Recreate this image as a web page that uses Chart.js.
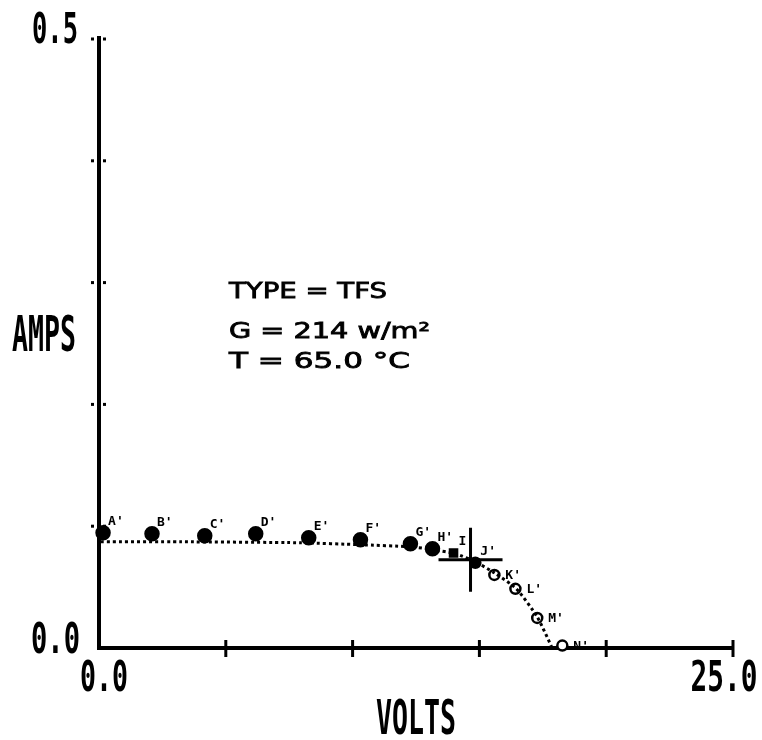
<!DOCTYPE html>
<html>
<head>
<meta charset="utf-8">
<script src="https://cdn.jsdelivr.net/npm/chart.js@4.4.0/dist/chart.umd.min.js"></script>
<style>
  html, body { margin: 0; padding: 0; background: #fff; }
  #wrap { width: 762px; height: 740px; }
</style>
</head>
<body>
<div id="wrap"><canvas id="grafico" width="762" height="740"></canvas></div>
<script>
// puntos medidos A'..N'
const etiquetas = ["A'", "B'", "C'", "D'", "E'", "F'", "G'", "H'", "I'", "J'", "K'", "L'", "M'", "N'"];
const voltios = [0.16, 2.09, 4.17, 6.18, 8.27, 10.31, 12.28, 13.15, 13.98, 14.84, 15.59, 16.42, 17.28, 18.27];
const amperios = [0.0947, 0.0938, 0.0922, 0.0938, 0.0905, 0.0889, 0.0856, 0.0815, 0.078, 0.070, 0.060, 0.0486, 0.0247, 0.002];

// curva punteada
const curvaV = [0.08, 3.23, 7.95, 10.31, 12.28, 13.19, 14.06, 14.84, 15.59, 16.46, 17.28, 17.87];
const curvaI = [0.0872, 0.0872, 0.0864, 0.0848, 0.0831, 0.0807, 0.0774, 0.0708, 0.0617, 0.0486, 0.0255, 0.0];

// cruz (punto de maxima potencia)
const mppV = [14.65];
const mppI = [0.0724];

// ejes
const ticksX = [0, 5, 10, 15, 20, 25];
const ticksY = [0.1, 0.2, 0.3, 0.4, 0.5];
const limitesX = ["0.0", "25.0"];
const limitesY = ["0.0", "0.5"];
const tituloX = "VOLTS";
const tituloY = "AMPS";
const notas = ["TYPE = TFS", "G = 214 w/m²", "T = 65.0 °C"];

// texto angosto tipo plotter: alto de mayuscula y ancho final
function textoAngosto(ctx, txt, x, base, alto, ancho, align, fuente, trazo) {
  const size = Math.round(alto / 0.73);
  ctx.font = fuente ? fuente.replace("SIZE", size) : "bold " + size + "px 'DejaVu Sans Mono'";
  const w = ctx.measureText(txt).width;
  const sx = ancho / w;
  ctx.save();
  ctx.translate(x, base);
  ctx.scale(sx, 1);
  ctx.textAlign = "left";
  ctx.textBaseline = "alphabetic";
  let x0 = 0;
  if (align === "right") x0 = -w;
  if (align === "center") x0 = -w / 2;
  ctx.fillText(txt, x0, 0);
  if (trazo) {
    ctx.lineWidth = trazo;
    ctx.strokeStyle = "#000";
    ctx.strokeText(txt, x0, 0);
  }
  ctx.restore();
}

const pluginEjes = {
  id: "ejes",
  beforeDatasetsDraw(chart) {
    const ctx = chart.ctx;
    const sx = chart.scales.x;
    const sy = chart.scales.y;
    const x0 = sx.getPixelForValue(0);
    const y0 = sy.getPixelForValue(0);
    ctx.save();
    ctx.strokeStyle = "#000";
    ctx.fillStyle = "#000";
    ctx.lineCap = "butt";
    // eje y
    ctx.lineWidth = 4;
    ctx.beginPath();
    ctx.moveTo(x0, sy.getPixelForValue(0.5) - 3);
    ctx.lineTo(x0, y0 + 2);
    ctx.stroke();
    // eje x
    ctx.beginPath();
    ctx.moveTo(x0 - 2, y0);
    ctx.lineTo(sx.getPixelForValue(25), y0);
    ctx.stroke();
    // marcas x
    ctx.lineWidth = 3;
    ticksX.forEach(function (v) {
      if (v === 0) return;
      const px = sx.getPixelForValue(v);
      ctx.beginPath();
      ctx.moveTo(px, y0 - 8);
      ctx.lineTo(px, y0 + 9);
      ctx.stroke();
    });
    // marcas y (puntos)
    ticksY.forEach(function (v) {
      const py = sy.getPixelForValue(v);
      ctx.fillRect(x0 - 8, py - 1.5, 3, 3);
      ctx.fillRect(x0 + 4, py - 1.5, 3, 3);
    });
    ctx.restore();
  },
  afterDraw(chart) {
    const ctx = chart.ctx;
    const sx = chart.scales.x;
    const sy = chart.scales.y;
    const x0 = sx.getPixelForValue(0);
    const y0 = sy.getPixelForValue(0);
    ctx.save();
    ctx.fillStyle = "#000";

    // etiquetas de los extremos
    textoAngosto(ctx, limitesY[1], x0 - 21, sy.getPixelForValue(0.5) + 4, 31, 46, "right");
    textoAngosto(ctx, limitesY[0], x0 - 19, y0 + 5, 31, 49, "right");
    textoAngosto(ctx, limitesX[0], x0 + 5, y0 + 43, 31, 48, "center");
    textoAngosto(ctx, limitesX[1], sx.getPixelForValue(25) - 9, y0 + 43, 31, 67, "center");

    // titulos
    textoAngosto(ctx, tituloY, 12, 351, 36, 64, "left");
    textoAngosto(ctx, tituloX, 416, 734, 35, 80, "center");

    // notas manuscritas
    const fuenteNota = "SIZEpx 'DejaVu Sans'";
    textoAngosto(ctx, notas[0], 229, 298, 15, 158, "left", fuenteNota, 0.8);
    textoAngosto(ctx, notas[1], 229, 338, 15, 201, "left", fuenteNota, 0.8);
    textoAngosto(ctx, notas[2], 229, 368, 15, 181, "left", fuenteNota, 0.8);

    // letras de los puntos
    const meta = chart.getDatasetMeta(1);
    ctx.font = "bold 13px 'DejaVu Sans Mono'";
    ctx.textAlign = "left";
    ctx.textBaseline = "alphabetic";
    meta.data.forEach(function (p, i) {
      let dx = 5, dy = -8;
      if (i >= 10) { dx = 11; dy = 4; }
      ctx.fillText(etiquetas[i], p.x + dx, p.y + dy);
    });
    ctx.restore();
  },
};

const puntos = voltios.map((v, i) => ({ x: v, y: amperios[i] }));
const curva = curvaV.map((v, i) => ({ x: v, y: curvaI[i] }));
const cruz = mppV.map((v, i) => ({ x: v, y: mppI[i] }));

const estilos = voltios.map((v, i) => (i === 8 ? "rect" : "circle"));
const radios = voltios.map((v, i) => (i < 8 ? 6.5 : i === 8 ? 5 : 5));
const rellenos = voltios.map((v, i) => (i < 10 ? "#000" : "#fff"));

new Chart(document.getElementById("grafico"), {
  type: "scatter",
  data: {
    datasets: [
      {
        label: "curva",
        data: curva,
        showLine: true,
        borderColor: "#000",
        borderWidth: 3,
        borderDash: [3, 3],
        pointRadius: 0,
        tension: 0.2,
        clip: false,
      },
      {
        label: "medidos",
        data: puntos,
        pointStyle: estilos,
        pointRadius: radios,
        backgroundColor: rellenos,
        borderColor: "#000",
        borderWidth: 2.5,
        clip: false,
      },
      {
        label: "mpp",
        data: cruz,
        pointStyle: "cross",
        pointRadius: 32,
        borderColor: "#000",
        borderWidth: 3,
        clip: false,
      },
    ],
  },
  options: {
    responsive: false,
    animation: false,
    events: [],
    layout: {
      autoPadding: false,
      padding: { left: 99, right: 29, top: 39, bottom: 92 },
    },
    plugins: {
      legend: { display: false },
      tooltip: { enabled: false },
    },
    scales: {
      x: { type: "linear", min: 0, max: 25, display: false },
      y: { type: "linear", min: 0, max: 0.5, display: false },
    },
  },
  plugins: [pluginEjes],
});
</script>
</body>
</html>
